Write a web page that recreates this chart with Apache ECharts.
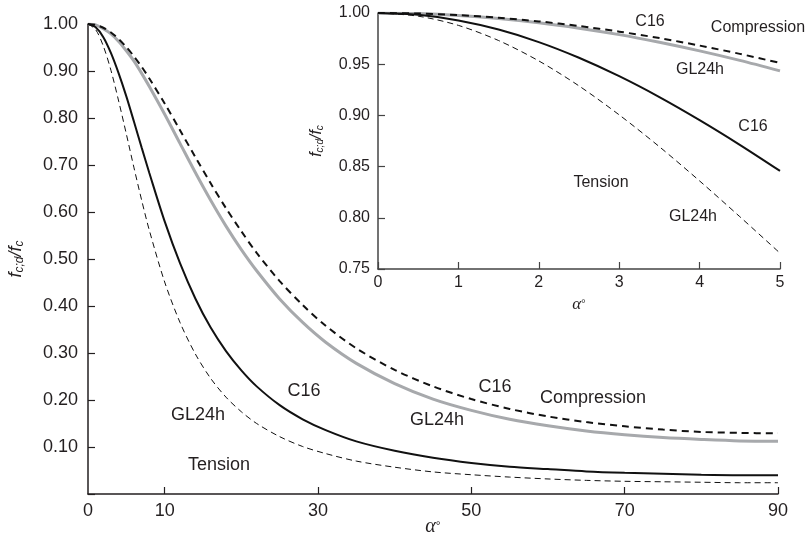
<!DOCTYPE html>
<html><head><meta charset="utf-8">
<script src="https://cdn.jsdelivr.net/npm/echarts@6/dist/echarts.min.js"></script>
<style>html,body{margin:0;padding:0;background:#fff}#c{width:810px;height:542px}</style>
</head><body><div id="c"></div>
<script>
// Main chart: angle alpha (degrees) and f_c;d/f_c
const alphaMain = [0,1,2,3,4,5,6,7,8,10,12,14,16,18,20,22,25,28,31,35,40,45,50,55,60,65,70,75,80,85,90];
const c16Comp  = [1,0.998,0.992,0.982,0.968,0.951,0.931,0.909,0.884,0.831,0.774,0.717,0.661,0.608,0.559,0.513,0.453,0.402,0.358,0.310,0.264,0.229,0.202,0.181,0.165,0.153,0.144,0.137,0.132,0.130,0.129];
const gl24Comp = [1,0.998,0.990,0.979,0.963,0.943,0.921,0.895,0.867,0.808,0.746,0.684,0.625,0.570,0.520,0.475,0.415,0.365,0.323,0.278,0.235,0.202,0.178,0.159,0.145,0.134,0.126,0.120,0.116,0.113,0.1125];
const c16Tens  = [1,0.993,0.972,0.938,0.895,0.846,0.792,0.737,0.683,0.580,0.491,0.416,0.354,0.304,0.263,0.229,0.189,0.159,0.136,0.112,0.092,0.077,0.066,0.058,0.053,0.048,0.045,0.043,0.041,0.040,0.040];
const gl24Tens = [1,0.988,0.953,0.901,0.836,0.766,0.694,0.625,0.561,0.451,0.365,0.298,0.246,0.206,0.175,0.150,0.122,0.101,0.086,0.070,0.057,0.047,0.041,0.036,0.032,0.029,0.027,0.026,0.025,0.024,0.024];
const mainXLabels = [0,10,30,50,70,90];
const mainXTicks = [10,30,50,70,90];

// Inset chart
const alphaInset = [0,0.5,1,1.5,2,2.5,3,3.5,4,4.5,5];
const insetC16Comp  = [1,0.9995,0.9980,0.9954,0.9918,0.9873,0.9818,0.9755,0.9682,0.9601,0.9512];
const insetGl24Comp = [1,0.9994,0.9976,0.9946,0.9905,0.9852,0.9789,0.9714,0.9630,0.9537,0.9435];
const insetC16Tens  = [1,0.9982,0.9927,0.9838,0.9716,0.9563,0.9383,0.9179,0.8954,0.8713,0.8458];
const insetGl24Tens = [1,0.9969,0.9879,0.9731,0.9532,0.9288,0.9005,0.8694,0.8360,0.8011,0.7655];

const zip = (xs, ys) => xs.map((x, i) => [x, ys[i]]);
const FONT = 'Liberation Sans';
const TXT = '#231f20';

const yName = '{i|f}{s|c;d}{i|/f}{s|c}';
const yNameRich = (fs) => ({
  i: {fontStyle: 'italic', fontSize: fs, fontFamily: FONT, color: TXT, lineHeight: fs + 6},
  s: {fontStyle: 'italic', fontSize: Math.round(fs * 0.65), fontFamily: FONT, color: TXT, padding: [Math.round(fs*0.45), 0, 0, 0], lineHeight: fs + 6}
});
const xName = '{a|α}°';
const xNameRich = (fs) => ({
  a: {fontStyle: 'italic', fontFamily: 'Liberation Serif', fontSize: fs, color: TXT}
});

const lineStyles = {
  c16Comp:  {color: '#111', width: 2, type: [7, 5]},
  gl24Comp: {color: '#a7a9ac', width: 3, type: 'solid'},
  c16Tens:  {color: '#111', width: 2, type: 'solid'},
  gl24Tens: {color: '#111', width: 1, type: [6, 4]}
};
function ser(name, data, xi, style) {
  return {name, type: 'line', xAxisIndex: xi, yAxisIndex: xi, data, showSymbol: false, symbol: 'none',
    smooth: 0.3, lineStyle: style, z: style.color === '#a7a9ac' ? 2 : 3, silent: true};
}

function lab(text, x, y, fs) {
  return {type: 'text', x, y, style: {text, fontFamily: FONT, fontSize: fs, fill: TXT, align: 'center', verticalAlign: 'middle'}};
}

const chart = echarts.init(document.getElementById('c'));
chart.setOption({
  animation: false,
  backgroundColor: '#fff',
  grid: [
    {left: 88, right: 32, top: 24, bottom: 48, containLabel: false, outerBoundsMode: 'none'},
    {left: 378, right: 30, top: 13, bottom: 273, containLabel: false, outerBoundsMode: 'none'}
  ],
  xAxis: [
    {type: 'value', gridIndex: 0, min: 0, max: 90,
      axisLine: {lineStyle: {color: '#231f20', width: 1.5}},
      axisTick: {inside: true, length: 7, customValues: mainXTicks, lineStyle: {color: '#231f20', width: 1.2}},
      axisLabel: {customValues: mainXLabels, fontFamily: FONT, fontSize: 18, color: TXT, margin: 8},
      splitLine: {show: false}},
    {type: 'value', gridIndex: 1, min: 0, max: 5, interval: 1,
      name: xName, nameLocation: 'middle', nameGap: 27, nameTextStyle: {rich: xNameRich(17)},
      axisLine: {lineStyle: {color: '#444', width: 1.5}},
      axisTick: {inside: true, length: 7, lineStyle: {color: '#444', width: 1.2}},
      axisLabel: {fontFamily: FONT, fontSize: 16, color: TXT, margin: 6, showMinLabel: true, showMaxLabel: true},
      splitLine: {show: false}}
  ],
  yAxis: [
    {type: 'value', gridIndex: 0, min: 0, max: 1, interval: 0.1,
      name: yName, nameLocation: 'middle', nameGap: 60, nameRotate: 90, nameTextStyle: {rich: yNameRich(18)},
      axisLine: {lineStyle: {color: '#231f20', width: 1.5}},
      axisTick: {inside: true, length: 7, lineStyle: {color: '#231f20', width: 1.2}},
      axisLabel: {fontFamily: FONT, fontSize: 18, color: TXT, margin: 10,
        formatter: v => v === 0 ? '' : v.toFixed(2)},
      splitLine: {show: false}},
    {type: 'value', gridIndex: 1, min: 0.75, max: 1, interval: 0.05,
      name: yName, nameLocation: 'middle', nameGap: 50, nameRotate: 90, nameTextStyle: {rich: yNameRich(16)},
      axisLine: {lineStyle: {color: '#444', width: 1.5}},
      axisTick: {inside: true, length: 7, lineStyle: {color: '#444', width: 1.2}},
      axisLabel: {fontFamily: FONT, fontSize: 16, color: TXT, margin: 8, formatter: v => v.toFixed(2)},
      splitLine: {show: false}}
  ],
  series: [
    ser('GL24h compression', zip(alphaMain, gl24Comp), 0, lineStyles.gl24Comp),
    ser('C16 compression', zip(alphaMain, c16Comp), 0, lineStyles.c16Comp),
    ser('C16 tension', zip(alphaMain, c16Tens), 0, lineStyles.c16Tens),
    ser('GL24h tension', zip(alphaMain, gl24Tens), 0, lineStyles.gl24Tens),
    ser('GL24h compression (inset)', zip(alphaInset, insetGl24Comp), 1, lineStyles.gl24Comp),
    ser('C16 compression (inset)', zip(alphaInset, insetC16Comp), 1, lineStyles.c16Comp),
    ser('C16 tension (inset)', zip(alphaInset, insetC16Tens), 1, lineStyles.c16Tens),
    ser('GL24h tension (inset)', zip(alphaInset, insetGl24Tens), 1, lineStyles.gl24Tens)
  ],
  graphic: [
    {type: 'text', x: 433, y: 527, style: {text: xName, rich: xNameRich(20), fill: TXT, align: 'center', verticalAlign: 'middle'}},
    lab('C16', 304, 391, 18),
    lab('GL24h', 198, 415, 18),
    lab('Tension', 219, 465, 18),
    lab('GL24h', 437, 420, 18),
    lab('C16', 495, 387, 18),
    lab('Compression', 593, 398, 18),
    lab('C16', 650, 22, 16),
    lab('Compression', 758, 28, 16),
    lab('GL24h', 700, 70, 16),
    lab('C16', 753, 127, 16),
    lab('Tension', 601, 183, 16),
    lab('GL24h', 693, 217, 16)
  ]
});
</script></body></html>
